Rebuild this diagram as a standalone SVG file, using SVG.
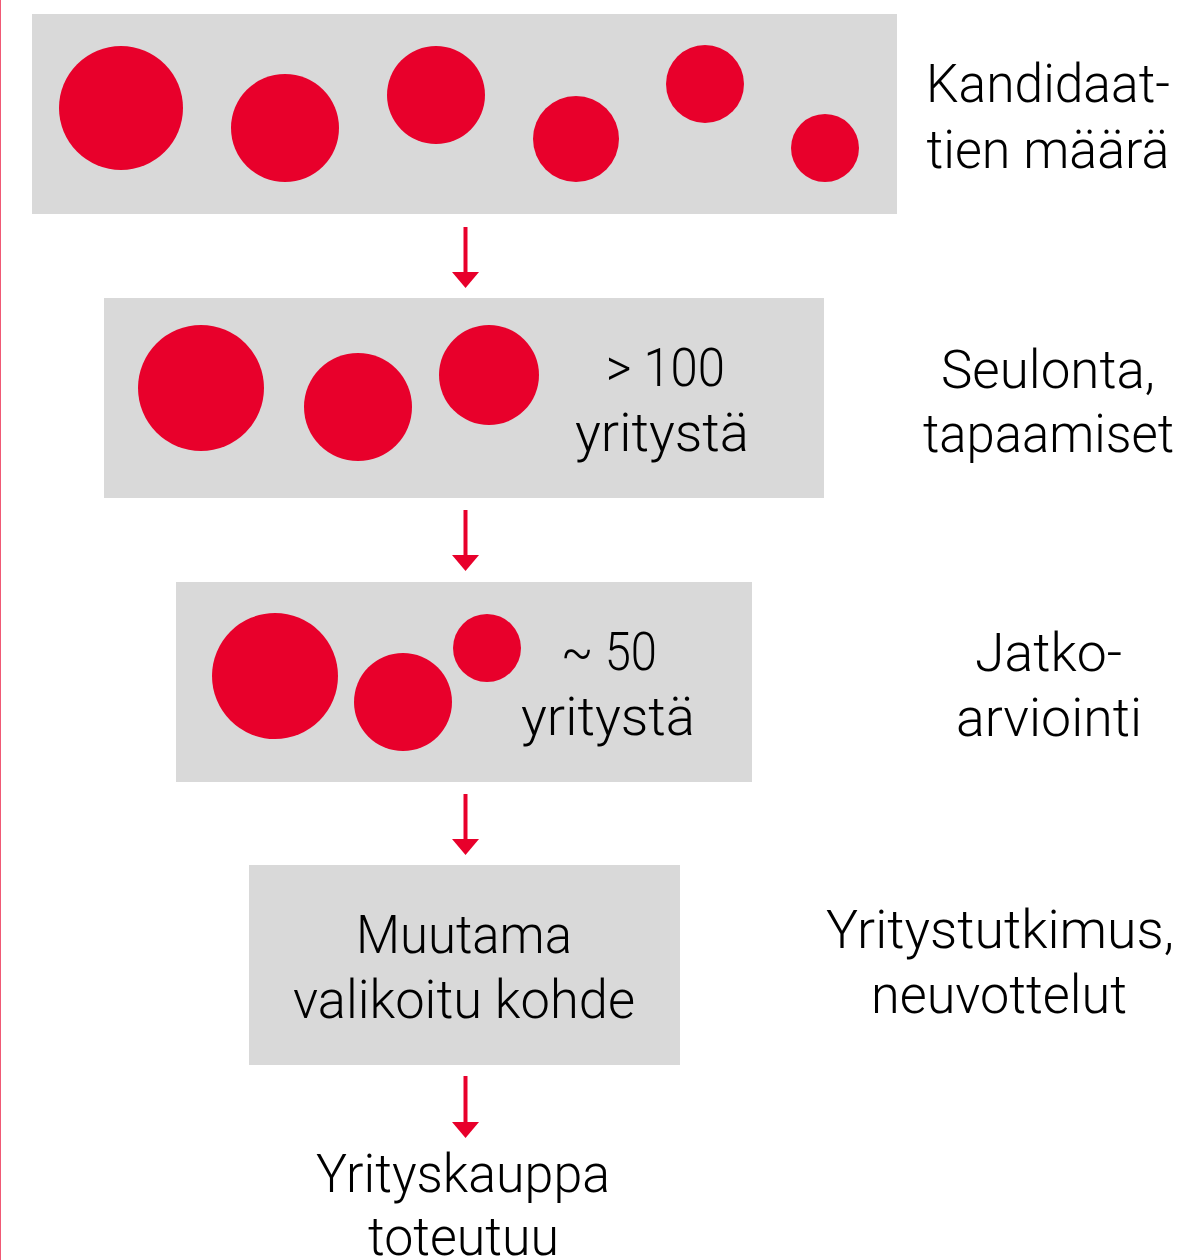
<svg xmlns="http://www.w3.org/2000/svg" width="1193" height="1260" viewBox="0 0 1193 1260">
<style>
.box{fill:#D9D9D9}
.dot{fill:#E8002B}
.t{font-family:Roboto,"Liberation Sans",sans-serif;font-weight:300;font-size:54px;fill:#000;text-anchor:middle}
.arr{stroke:#E8002B;stroke-width:4;fill:none}
</style>
<defs>
<marker id="headDown" markerUnits="userSpaceOnUse" markerWidth="27" markerHeight="16" refX="13.5" refY="2" orient="0" viewBox="0 0 27 16">
<path d="M0,0 L27,0 L13.5,16 Z" fill="#E8002B"/>
</marker>
</defs>
<rect x="0" y="0" width="1" height="1260" fill="#E8002B" opacity="0.65"/>

<g id="stage1">
<rect class="box" x="32" y="14" width="865" height="200"/>
<circle class="dot" cx="121" cy="108" r="62"/>
<circle class="dot" cx="285" cy="128" r="54"/>
<circle class="dot" cx="436" cy="95" r="49"/>
<circle class="dot" cx="576" cy="139" r="43"/>
<circle class="dot" cx="705" cy="84" r="39"/>
<circle class="dot" cx="825" cy="148" r="34"/>
</g>
<g id="label1">
<text class="t" x="1048" y="102" textLength="244" lengthAdjust="spacingAndGlyphs">Kandidaat-</text>
<text class="t" x="1048" y="168" textLength="243" lengthAdjust="spacingAndGlyphs">tien määrä</text>
</g>

<g id="stage2">
<rect class="box" x="104" y="298" width="720" height="200"/>
<circle class="dot" cx="201" cy="388" r="63"/>
<circle class="dot" cx="358" cy="407" r="54"/>
<circle class="dot" cx="489" cy="375" r="50"/>
<text class="t" x="665.5" y="386" textLength="119" lengthAdjust="spacingAndGlyphs">&gt; 100</text>
<text class="t" x="662" y="451" textLength="174" lengthAdjust="spacingAndGlyphs">yritystä</text>
</g>
<g id="label2">
<text class="t" x="1048" y="388" textLength="214" lengthAdjust="spacingAndGlyphs">Seulonta,</text>
<text class="t" x="1048.5" y="452" textLength="251" lengthAdjust="spacingAndGlyphs">tapaamiset</text>
</g>

<g id="stage3">
<rect class="box" x="176" y="582" width="576" height="200"/>
<circle class="dot" cx="275" cy="676" r="63"/>
<circle class="dot" cx="403" cy="702" r="49"/>
<circle class="dot" cx="487" cy="648" r="34"/>
<text class="t" x="609" y="670" textLength="96" lengthAdjust="spacingAndGlyphs">~ 50</text>
<text class="t" x="608" y="735" textLength="174" lengthAdjust="spacingAndGlyphs">yritystä</text>
</g>
<g id="label3">
<text class="t" x="1048.5" y="671" textLength="147" lengthAdjust="spacingAndGlyphs">Jatko-</text>
<text class="t" x="1049" y="736" textLength="186" lengthAdjust="spacingAndGlyphs">arviointi</text>
</g>

<g id="stage4">
<rect class="box" x="249" y="865" width="431" height="200"/>
<text class="t" x="464" y="953" textLength="216" lengthAdjust="spacingAndGlyphs">Muutama</text>
<text class="t" x="464" y="1018" textLength="342" lengthAdjust="spacingAndGlyphs">valikoitu kohde</text>
</g>
<g id="label4">
<text class="t" x="1000" y="948" textLength="348" lengthAdjust="spacingAndGlyphs">Yritystutkimus,</text>
<text class="t" x="999" y="1013" textLength="256" lengthAdjust="spacingAndGlyphs">neuvottelut</text>
</g>

<g id="result">
<text class="t" x="463" y="1192" textLength="294" lengthAdjust="spacingAndGlyphs">Yrityskauppa</text>
<text class="t" x="463.5" y="1255" textLength="191" lengthAdjust="spacingAndGlyphs">toteutuu</text>
</g>

<g id="connectors">
<line class="arr" x1="465.5" y1="227" x2="465.5" y2="274" marker-end="url(#headDown)"/>
<line class="arr" x1="465.5" y1="510" x2="465.5" y2="557" marker-end="url(#headDown)"/>
<line class="arr" x1="465.5" y1="794" x2="465.5" y2="841" marker-end="url(#headDown)"/>
<line class="arr" x1="465.5" y1="1076" x2="465.5" y2="1124" marker-end="url(#headDown)"/>
</g>
</svg>
